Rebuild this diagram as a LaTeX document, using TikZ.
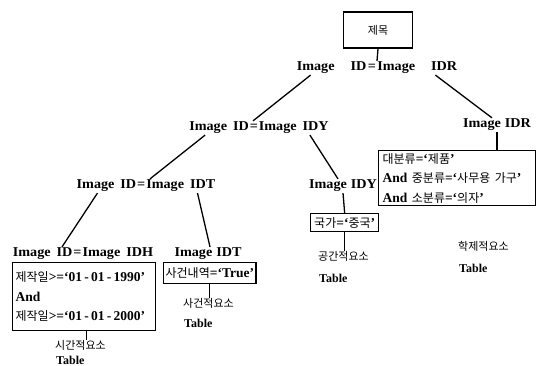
\documentclass[tikz,border=0pt]{standalone}
\usepackage{fontspec}
\setmainfont{Liberation Serif}
\newfontfamily\widefont{Liberation Serif}[FakeStretch=1.05]
\newfontfamily\krfont{Noto Sans CJK KR}
% Korean runs inside Latin text
\newcommand\ko[1]{{\krfont\mdseries\fontsize{11}{12}\selectfont #1}}
\newcommand\kob[1]{{\krfont\mdseries\fontsize{12}{13}\selectfont #1}}
\begin{document}
\begin{tikzpicture}[x=1pt,y=1pt,
  lbl/.style={inner sep=1pt,font=\widefont\bfseries\fontsize{13.5}{16}\selectfont},
  cond/.style={draw,line width=1.3pt,inner xsep=4pt,inner ysep=2pt,align=left,
    anchor=north west,font=\bfseries\fontsize{13.5}{19.5}\selectfont},
  tbl/.style={anchor=west,inner sep=0pt,font=\bfseries\fontsize{12}{14}\selectfont},
  link/.style={line width=1.3pt}]
\useasboundingbox (0,0) rectangle (545,366);

% root box
\node[draw,line width=1.4pt,minimum width=69pt,minimum height=36pt] (root) at (378,336) {\ko{제목}};

% join conditions
\node[lbl] (j0) at (377,298) {Image\hspace{16pt}ID\hspace{1.5pt}=\hspace{1.5pt}Image\hspace{16pt}IDR};
\node[lbl] (j1) at (259,238) {Image\hspace{6pt}ID\hspace{1pt}=\hspace{1pt}Image\hspace{6pt}IDY};
\node[lbl] (j2) at (146,180) {Image\hspace{6pt}ID\hspace{1pt}=\hspace{1pt}Image\hspace{6pt}IDT};
\node[lbl] (j3) at (83,112) {Image\hspace{6pt}ID\hspace{1pt}=\hspace{1pt}Image\hspace{6pt}IDH};
\node[lbl] (r1) at (497,241) {Image\hspace{4pt}IDR};
\node[lbl] (y2) at (343,180) {Image\hspace{4pt}IDY};
\node[lbl] (t3) at (208,112) {Image\hspace{4pt}IDT};

% selection conditions
\node[cond,text width=149pt,minimum height=55pt] (cls) at (378,216)
  {\kob{대분류}=`\kob{제품}'\\And\ \kob{중분류}=`\kob{사무용 가구}'\\And\ \kob{소분류}=`\kob{의자}'};
\node[cond,minimum width=68pt,minimum height=18pt,inner xsep=2pt,inner ysep=1pt,
  font=\bfseries\fontsize{13.5}{15}\selectfont] (cty) at (310,153)
  {\kob{국가}=`\kob{중국}'};
\node[cond,minimum width=91pt,minimum height=21pt,inner xsep=2pt,inner ysep=1pt,
  font=\bfseries\fontsize{13.5}{15}\selectfont] (evt) at (163,104)
  {\kob{사건내역}=`True'};
\node[cond,text width=137pt,minimum height=68pt,inner xsep=3pt,inner ysep=4pt] (dte) at (12,104)
  {\kob{제작일}>=`01\,-\,01\,-\,1990'\\And\\\kob{제작일}>=`01\,-\,01\,-\,2000'};

% element tables
\node[tbl] (tTimeK) at (55,21) {\ko{시간적요소}};
\node[tbl] (tTime) at (56,6) {Table};
\node[tbl] (tEvtK) at (183,63) {\ko{사건적요소}};
\node[tbl] (tEvt) at (184,43) {Table};
\node[tbl] (tSpcK) at (318,110) {\ko{공간적요소}};
\node[tbl] (tSpc) at (319,88) {Table};
\node[tbl] (tClsK) at (458,120) {\ko{학제적요소}};
\node[tbl] (tCls) at (459,98) {Table};

% tree edges
\draw[link] (root.south) -- (j0.north);
\draw[link] ([xshift=15pt]j0.south west) -- ([xshift=-6pt]j1.north);
\draw[link] ([xshift=-23pt]j0.south east) -- ([xshift=-5pt]r1.north);
\draw[link] ([xshift=17pt]j1.south west) -- ([xshift=4pt]j2.north);
\draw[link] ([xshift=-20pt]j1.south east) -- ([xshift=-5pt]y2.north);
\draw[link] ([xshift=22pt]j2.south west) -- ([xshift=-21pt]j3.north);
\draw[link] ([xshift=-19pt]j2.south east) -- ([xshift=2pt]t3.north);
\draw[link] (r1.south) -- (r1.south |- cls.north);
\draw[link] (y2.south) -- (cty.north);
\draw[link] (cty.south) -- (cty.south |- tSpcK.north);
\draw[link] (evt.south) -- (evt.south |- tEvtK.north);
\draw[link] ([xshift=2pt]dte.south) -- ([xshift=2pt]dte.south |- tTimeK.north);
\end{tikzpicture}
\end{document}
